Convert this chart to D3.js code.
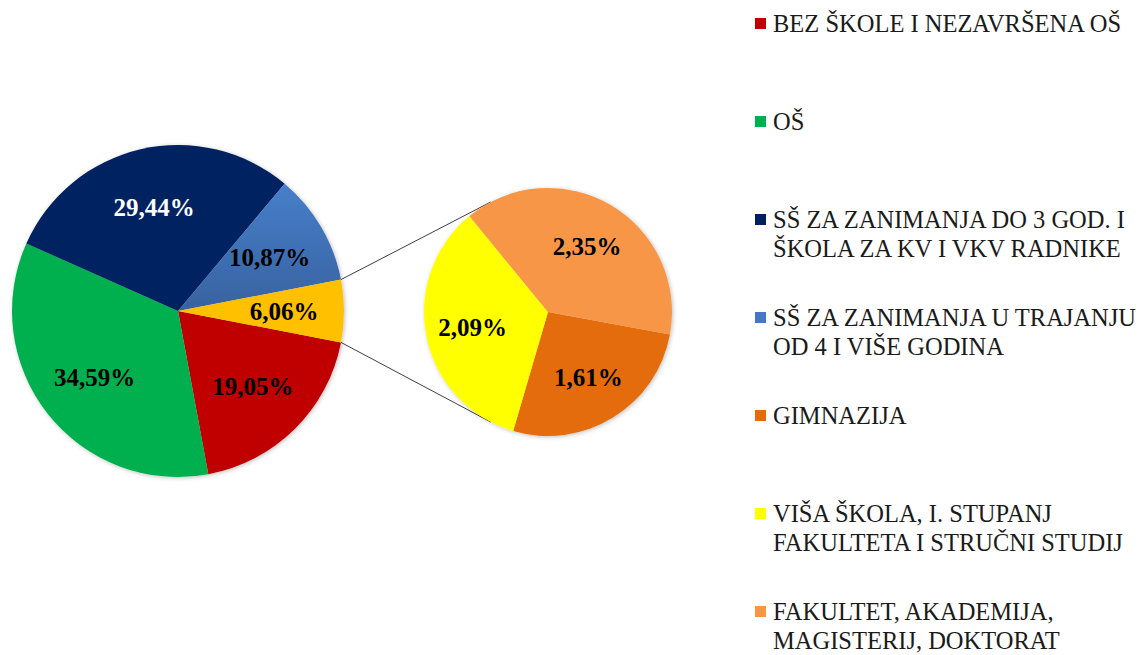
<!DOCTYPE html>
<meta charset='utf-8'>
<style>
	body { margin: 0; background: #fff; }
	#container { width: 1147px; height: 655px; }
</style>
<body>
	<div id='container'></div>
<script src='https://d3js.org/d3.v7.min.js'></script>
<script>
	// main pie: four categories plus the combined "other" slice
	const mainNames = [ 'BEZ ŠKOLE I NEZAVRŠENA OŠ', 'OŠ', 'SŠ 3 GOD.', 'SŠ 4 GOD.', 'OSTALO' ];
	const mainValues = [ 19.05, 34.59, 29.44, 10.87, 6.06 ];
	const mainColors = [ '#C00000', '#00B050', '#002060', 'url(#blueGrad)', '#FFC000' ];
	const mainTextColors = [ '#000', '#000', '#fff', '#000', '#000' ];

	// second pie: breakdown of the "other" slice
	const subNames = [ 'GIMNAZIJA', 'VIŠA ŠKOLA', 'FAKULTET' ];
	const subValues = [ 1.61, 2.09, 2.35 ];
	const subColors = [ '#E46C0A', '#FFFF00', '#F79646' ];

	// legend
	const legendLabels = [
		[ 'BEZ ŠKOLE I NEZAVRŠENA OŠ' ],
		[ 'OŠ' ],
		[ 'SŠ ZA ZANIMANJA DO 3 GOD. I', 'ŠKOLA ZA KV I VKV RADNIKE' ],
		[ 'SŠ ZA ZANIMANJA U TRAJANJU', 'OD 4 I VIŠE GODINA' ],
		[ 'GIMNAZIJA' ],
		[ 'VIŠA ŠKOLA, I. STUPANJ', 'FAKULTETA I STRUČNI STUDIJ' ],
		[ 'FAKULTET, AKADEMIJA,', 'MAGISTERIJ, DOKTORAT' ],
	];
	const legendColors = [ '#C00000', '#00B050', '#002060', '#4478C2', '#E46C0A', '#FFFF00', '#F79646' ];

	const W = 1147, H = 655;
	const main = { cx: 178, cy: 311, r: 166 },
		sub = { cx: 548, cy: 312, r: 124 },
		rad = Math.PI / 180,
		subStart = 100.5 * rad,
		connectorSpread = 62.5 * rad,
		fontFamily = '"Liberation Serif", "Times New Roman", serif';

	const fmt = v => d3.format( '.2f' )( v ).replace( '.', ',' ) + '%';

	const svg = d3.select( '#container' )
		.append( 'svg' )
		.attr( 'width', W )
		.attr( 'height', H );

	const defs = svg.append( 'defs' );
	const grad = defs.append( 'linearGradient' )
		.attr( 'id', 'blueGrad' )
		.attr( 'gradientUnits', 'userSpaceOnUse' )
		.attr( 'x1', 0 ).attr( 'y1', -main.r )
		.attr( 'x2', 0 ).attr( 'y2', 0 );
	grad.append( 'stop' ).attr( 'offset', '0%' ).attr( 'stop-color', '#4A88D6' );
	grad.append( 'stop' ).attr( 'offset', '100%' ).attr( 'stop-color', '#3862A0' );

	const shadow = defs.append( 'filter' )
		.attr( 'id', 'shadow' )
		.attr( 'x', '-10%' ).attr( 'y', '-10%' )
		.attr( 'width', '120%' ).attr( 'height', '120%' );
	shadow.append( 'feDropShadow' )
		.attr( 'dx', 1 ).attr( 'dy', 1 )
		.attr( 'stdDeviation', 2 )
		.attr( 'flood-color', '#000' )
		.attr( 'flood-opacity', 0.25 );

	// main pie, "other" slice centred on 3 o'clock
	const otherAngle = mainValues[ mainValues.length - 1 ] / d3.sum( mainValues ) * 2 * Math.PI;
	const mainStart = Math.PI / 2 + otherAngle / 2;
	const mainPie = d3.pie().sort( null ).value( d => d )
		.startAngle( mainStart ).endAngle( mainStart + 2 * Math.PI );
	const mainArcs = mainPie( mainValues );
	const mainArc = d3.arc().innerRadius( 0 ).outerRadius( main.r );
	const mainLabelArc = d3.arc().innerRadius( main.r * 0.64 ).outerRadius( main.r * 0.64 );

	const gMain = svg.append( 'g' )
		.attr( 'transform', `translate( ${main.cx}, ${main.cy} )` );
	gMain.append( 'g' ).attr( 'filter', 'url(#shadow)' )
		.selectAll( 'path' )
		.data( mainArcs )
		.enter().append( 'path' )
			.attr( 'd', mainArc )
			.style( 'fill', ( d, i ) => mainColors[ i ] );

	gMain.selectAll( '.label' )
		.data( mainArcs )
		.enter().append( 'text' )
			.attr( 'class', 'label' )
			.attr( 'transform', d => `translate( ${mainLabelArc.centroid( d )} )` )
			.attr( 'text-anchor', 'middle' )
			.attr( 'dy', '.35em' )
			.style( 'font-family', fontFamily )
			.style( 'font-weight', 'bold' )
			.style( 'font-size', '25px' )
			.style( 'fill', ( d, i ) => mainTextColors[ i ] )
			.text( d => fmt( d.data ) );

	// second pie
	const subPie = d3.pie().sort( null ).value( d => d )
		.startAngle( subStart ).endAngle( subStart + 2 * Math.PI );
	const subArcs = subPie( subValues );
	const subArc = d3.arc().innerRadius( 0 ).outerRadius( sub.r );
	const subLabelArc = d3.arc().innerRadius( sub.r * 0.62 ).outerRadius( sub.r * 0.62 );

	// connector lines
	const other = mainArcs[ mainArcs.length - 1 ];
	const pt = ( c, a, r ) => [ c.cx + r * Math.sin( a ), c.cy - r * Math.cos( a ) ];
	const connectors = [
		[ pt( main, other.startAngle, main.r ), pt( sub, 1.5 * Math.PI + connectorSpread, sub.r ) ],
		[ pt( main, other.endAngle, main.r ), pt( sub, 1.5 * Math.PI - connectorSpread, sub.r ) ],
	];
	svg.append( 'g' )
		.selectAll( 'line' )
		.data( connectors )
		.enter().append( 'line' )
			.attr( 'x1', d => d[ 0 ][ 0 ] ).attr( 'y1', d => d[ 0 ][ 1 ] )
			.attr( 'x2', d => d[ 1 ][ 0 ] ).attr( 'y2', d => d[ 1 ][ 1 ] )
			.style( 'stroke', '#404040' )
			.style( 'stroke-width', 1 );

	const gSub = svg.append( 'g' )
		.attr( 'transform', `translate( ${sub.cx}, ${sub.cy} )` );
	gSub.append( 'g' ).attr( 'filter', 'url(#shadow)' )
		.selectAll( 'path' )
		.data( subArcs )
		.enter().append( 'path' )
			.attr( 'd', subArc )
			.style( 'fill', ( d, i ) => subColors[ i ] );

	gSub.selectAll( '.label' )
		.data( subArcs )
		.enter().append( 'text' )
			.attr( 'class', 'label' )
			.attr( 'transform', d => `translate( ${subLabelArc.centroid( d )} )` )
			.attr( 'text-anchor', 'middle' )
			.attr( 'dy', '.35em' )
			.style( 'font-family', fontFamily )
			.style( 'font-weight', 'bold' )
			.style( 'font-size', '25px' )
			.style( 'fill', '#000' )
			.text( d => fmt( d.data ) );

	// Legend
	const legendY = d3.scaleLinear().domain( [ 0, legendLabels.length - 1 ] ).range( [ 32, 620 ] );
	const legend = svg.append( 'g' )
		.selectAll( '.legend' )
		.data( legendLabels )
		.enter().append( 'g' )
			.attr( 'class', 'legend' )
			.attr( 'transform', ( d, i ) => `translate( 755, ${legendY( i )} )` );

	legend.append( 'rect' )
		.attr( 'x', 0 )
		.attr( 'y', -14 )
		.attr( 'width', 11 )
		.attr( 'height', 11 )
		.style( 'fill', ( d, i ) => legendColors[ i ] );

	legend.append( 'text' )
		.style( 'font-family', fontFamily )
		.style( 'font-size', '24.5px' )
		.style( 'fill', '#1a1a1a' )
		.selectAll( 'tspan' )
		.data( d => d )
		.enter().append( 'tspan' )
			.attr( 'x', 18 )
			.attr( 'y', ( d, i ) => i * 28.8 )
			.text( d => d );
</script>
</body>
